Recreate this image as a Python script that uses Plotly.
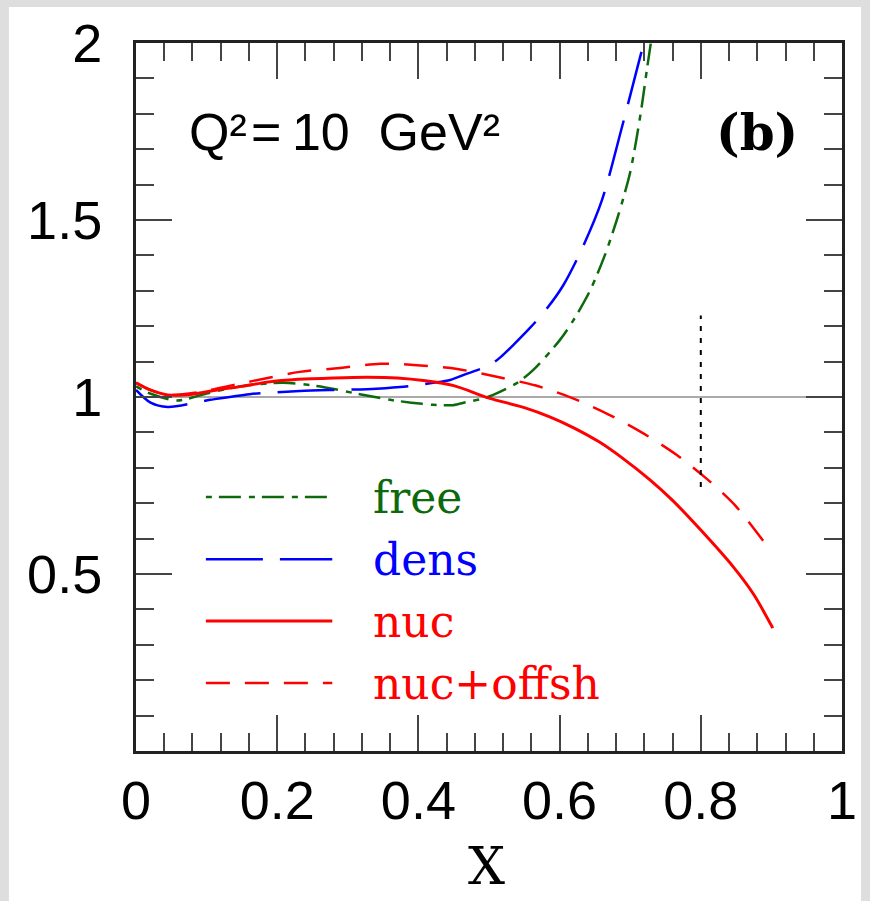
import plotly.graph_objects as go

# ---- data ----
free_x = [0.0, 0.02, 0.058, 0.1, 0.147, 0.208, 0.256, 0.317, 0.36, 0.39, 0.421, 0.449, 0.469, 0.49, 0.506,
          0.54, 0.562, 0.6, 0.619, 0.643, 0.664, 0.681, 0.69, 0.7, 0.709, 0.717, 0.724, 0.73]
free_y = [1.03, 1.01, 0.99, 1.01, 1.03, 1.04, 1.031, 1.008, 0.992, 0.984, 0.978, 0.977, 0.986, 0.995, 1.006,
          1.04, 1.075, 1.16, 1.215, 1.3, 1.4, 1.5, 1.56, 1.635, 1.73, 1.83, 1.93, 2.01]

dens_x = [0.0, 0.02, 0.045, 0.105, 0.161, 0.232, 0.28, 0.327, 0.374, 0.421, 0.445, 0.469, 0.501, 0.516,
          0.535, 0.558, 0.582, 0.605, 0.632, 0.66, 0.688, 0.714, 0.716]
dens_y = [1.02, 0.985, 0.972, 0.992, 1.008, 1.017, 1.02, 1.022, 1.028, 1.04, 1.048, 1.066, 1.09, 1.112,
          1.148, 1.195, 1.25, 1.315, 1.42, 1.556, 1.76, 1.96, 1.975]

nuc_x = [0.0, 0.02, 0.045, 0.08, 0.115, 0.15, 0.186, 0.23, 0.28, 0.327, 0.37, 0.41, 0.45, 0.5, 0.55,
         0.586, 0.62, 0.657, 0.69, 0.728, 0.76, 0.8, 0.846, 0.875, 0.902]
nuc_y = [1.04, 1.02, 1.006, 1.008, 1.02, 1.03, 1.042, 1.05, 1.054, 1.056, 1.054, 1.046, 1.032, 0.997, 0.97,
         0.944, 0.913, 0.872, 0.826, 0.766, 0.708, 0.624, 0.52, 0.442, 0.347]

offsh_x = [0.0, 0.02, 0.045, 0.09, 0.14, 0.19, 0.232, 0.289, 0.346, 0.398, 0.455, 0.511, 0.565, 0.618,
           0.671, 0.718, 0.766, 0.809, 0.848, 0.884, 0.895]
offsh_y = [1.04, 1.02, 1.006, 1.014, 1.035, 1.055, 1.071, 1.082, 1.094, 1.09, 1.079, 1.057, 1.033, 0.997,
           0.949, 0.898, 0.836, 0.768, 0.695, 0.605, 0.575]

cut_x = [0.8, 0.8]
cut_y = [0.746, 1.23]

ref_level = 1.0

x_ticks = [0, 0.2, 0.4, 0.6, 0.8, 1]
x_ticktext = ["0", "0.2", "0.4", "0.6", "0.8", "1"]
y_ticks = [0.5, 1, 1.5, 2]
y_ticktext = ["0.5", "1", "1.5", "2"]

legend_names = ["free", "dens", "nuc", "nuc+offsh"]

GREEN = "#0c6a0c"
BLUE = "#0000ff"
RED = "#ff0000"

styles = [
    (GREEN, "6px,7px,22px,8px", 2.5),
    (BLUE, "57px,17px", 2.5),
    (RED, "solid", 3),
    (RED, "24px,15px", 2.5),
]
series = [(free_x, free_y), (dens_x, dens_y), (nuc_x, nuc_y), (offsh_x, offsh_y)]

fig = go.Figure()
for (xs, ys), (col, dash, w), name in zip(series, styles, legend_names):
    fig.add_trace(go.Scatter(x=xs, y=ys, mode="lines", name=name, showlegend=False,
                             line=dict(color=col, dash=dash, width=w, shape="spline", smoothing=0.8)))

fig.add_trace(go.Scatter(x=cut_x, y=cut_y, mode="lines", showlegend=False,
                         line=dict(color="black", dash="5px,7px", width=2)))

shapes = []
# white sheet over a grey background
shapes.append(dict(type="rect", xref="paper", yref="paper", x0=-0.18, x1=1.027, y0=-0.215, y1=1.051,
                   fillcolor="white", line=dict(width=0), layer="below"))
# reference line at 1
shapes.append(dict(type="line", xref="paper", yref="y", x0=0, x1=1, y0=ref_level, y1=ref_level,
                   line=dict(color="#aaaaaa", width=2), layer="below"))

# manual legend
leg_x0, leg_x1, leg_tx = 0.099, 0.278, 0.333
leg_y = [0.7175, 0.542, 0.367, 0.192]
annotations = []
for (col, dash, w), name, ly in zip(styles, legend_names, leg_y):
    shapes.append(dict(type="line", xref="x", yref="y", x0=leg_x0, x1=leg_x1, y0=ly, y1=ly,
                       line=dict(color=col, dash=dash, width=w)))
    annotations.append(dict(x=leg_tx, y=ly, xref="x", yref="y", text=name, showarrow=False,
                            xanchor="left", yanchor="middle",
                            font=dict(family="DejaVu Serif", size=44, color=col)))

annotations.append(dict(x=0.072, y=1.75, xref="x", yref="y",
                        text="Q²\u200a=\u200910  GeV²", showarrow=False,
                        xanchor="left", yanchor="middle",
                        font=dict(family="Liberation Sans", size=52, color="black")))
annotations.append(dict(x=0.88, y=1.746, xref="x", yref="y", text="<b>(b)</b>", showarrow=False,
                        xanchor="center", yanchor="middle",
                        font=dict(family="DejaVu Serif", size=50, color="black")))
annotations.append(dict(x=0.497, y=-0.162, xref="paper", yref="paper", text="X", showarrow=False,
                        xanchor="center", yanchor="middle",
                        font=dict(family="DejaVu Serif", size=52, color="black")))

axis_common = dict(showline=True, linewidth=3, linecolor="#222", mirror="allticks",
                   ticks="inside", tickwidth=2, tickcolor="#444", ticklen=36,
                   showgrid=False, zeroline=False, automargin=False,
                   tickfont=dict(family="Liberation Sans", size=54, color="black"))

fig.update_layout(
    width=870, height=901,
    margin=dict(l=136, r=28, t=43, b=150),
    paper_bgcolor="#dedede",
    plot_bgcolor="white",
    shapes=shapes,
    annotations=annotations,
    xaxis=dict(range=[0, 1], tickvals=x_ticks, ticktext=x_ticktext,
               minor=dict(dtick=0.04, tick0=0, ticklen=18, ticks="inside", tickwidth=2, tickcolor="#444"),
               ticklabelstandoff=0,
               **axis_common),
    yaxis=dict(range=[0, 2], tickvals=y_ticks, ticktext=y_ticktext,
               minor=dict(dtick=0.1, tick0=0, ticklen=18, ticks="inside", tickwidth=2, tickcolor="#444"),
               ticklabelstandoff=20,
               **axis_common),
)

fig.write_html("out.html")
